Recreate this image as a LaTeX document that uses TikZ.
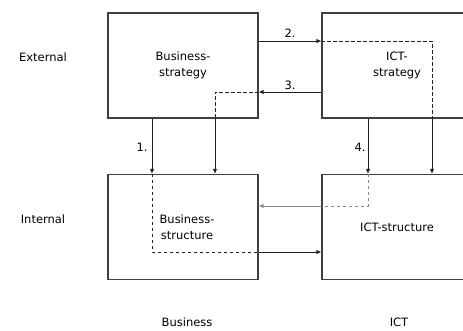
\documentclass[tikz,border=0pt]{standalone}
\usepackage{fontspec}
\setmainfont{DejaVu Sans}
\usetikzlibrary{arrows.meta}
\definecolor{boxgray}{HTML}{404040}
\definecolor{linegray}{HTML}{222222}
\definecolor{lightline}{HTML}{8A8A8A}

\begin{document}
\begin{tikzpicture}[x=1pt,y=-1pt,
		every node/.style={font=\fontsize{11.5}{16}\selectfont},
		box/.style={draw=boxgray, line width=1.1pt, minimum width=150pt,
			minimum height=105pt, align=center, inner sep=0pt},
		link/.style={draw=linegray, line width=0.9pt},
		linkarrow/.style={link, -{Latex[length=5pt,width=4.5pt]}},
		linkdash/.style={link, dash pattern=on 3.5pt off 2.5pt},
	]
	\clip (0,0) rectangle (463,331);
	%
	\node[box] (bs) at (183,65.5) {Business-\\strategy};
	\node[box] (is) at (397,65.5) {ICT-\\strategy};
	\node[box] (bu) at (183,227) {\hspace*{8pt}Business-\\\hspace*{8pt}structure};
	\node[box] (iu) at (397,227) {ICT-structure};
	%
	\node (ext) at (43,57) {External};
	\node (int) at (43,219) {Internal};
	\node (bus) at (187,322) {Business};
	\node (ict) at (399,322) {ICT};
	%
	\coordinate (k1) at (152,252);
	\coordinate (k2) at (432,41);
	\coordinate (k3) at (215,92);
	\coordinate (k4) at (368,206);
	%
	% 1.
	\draw[linkarrow] (bs.south -| k1) -- (bu.north -| k1);
	\draw[linkdash] (bu.north -| k1) -- (k1) -- (bu.east |- k1);
	\draw[linkarrow] (bu.east |- k1) -- (iu.west |- k1);
	% 2.
	\draw[linkarrow] (bs.east |- k2) -- (is.west |- k2);
	\draw[linkdash] (is.west |- k2) -- (k2) -- (is.south -| k2);
	\draw[linkarrow] (is.south -| k2) -- (iu.north -| k2);
	% 3.
	\draw[linkarrow] (is.west |- k3) -- (bs.east |- k3);
	\draw[linkdash] (bs.east |- k3) -- (k3) -- (bs.south -| k3);
	\draw[linkarrow] (bs.south -| k3) -- (bu.north -| k3);
	% 4.
	\draw[linkarrow] (is.south -| k4) -- (iu.north -| k4);
	\draw[linkdash, draw=lightline] (iu.north -| k4) -- (k4) -- (iu.west |- k4);
	\draw[linkarrow, draw=lightline] (iu.west |- k4) -- (bu.east |- k4);
	%
	\node (n1) at (142,147) {1.};
	\node (n2) at (290,33) {2.};
	\node (n3) at (290,85) {3.};
	\node (n4) at (360,147) {4.};
\end{tikzpicture}
\end{document}
